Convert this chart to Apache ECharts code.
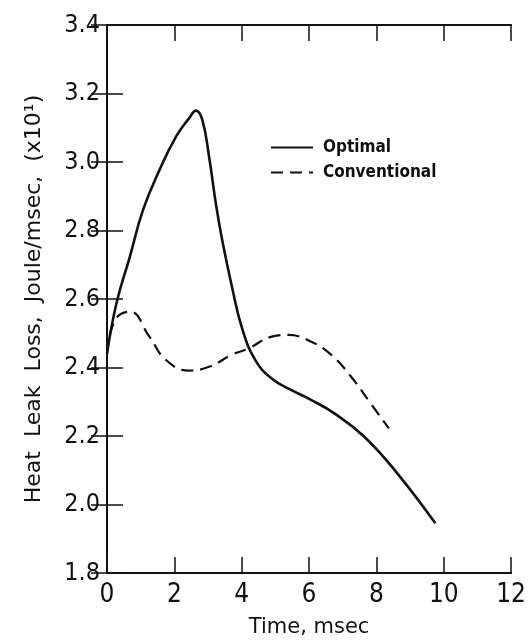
<!DOCTYPE html>
<html>
<head>
<meta charset="utf-8">
<script src="https://cdn.jsdelivr.net/npm/echarts@6/dist/echarts.min.js"></script>
<style>
  html, body { margin: 0; padding: 0; background: #fff; }
  #chart { width: 529px; height: 643px; }
</style>
</head>
<body>
<div id="chart"></div>
<script>
// ---- Data ----
const xTicks = [0, 2, 4, 6, 8, 10, 12];
const yTicks = [1.8, 2.0, 2.2, 2.4, 2.6, 2.8, 3.0, 3.2, 3.4];

const optimalX = [0, 0.28, 0.68, 1.07, 1.56, 2.05, 2.44, 2.64, 2.83, 3.03, 3.23, 3.42, 3.71, 4.01, 4.40, 4.89, 5.48, 6.07, 6.75, 7.64, 8.62, 9.75];
const optimalY = [2.44, 2.587, 2.724, 2.86, 2.977, 3.074, 3.128, 3.15, 3.123, 3.016, 2.88, 2.772, 2.636, 2.515, 2.422, 2.368, 2.334, 2.305, 2.266, 2.198, 2.091, 1.945];

const conventionalX = [0, 0.24, 0.68, 1.26, 1.75, 2.44, 3.03, 3.71, 4.21, 4.89, 5.38, 6.07, 6.66, 7.25, 7.83, 8.37];
const conventionalY = [2.44, 2.539, 2.563, 2.49, 2.422, 2.391, 2.402, 2.437, 2.456, 2.49, 2.495, 2.475, 2.437, 2.373, 2.295, 2.222];

const seriesNames = ['Optimal', 'Conventional'];
const xTitle = 'Time, msec';
const yTitle = 'Heat  Leak  Loss,  Joule/msec,  (x10\u00B9)';

function pairs(xs, ys) { return xs.map((x, i) => [x, ys[i]]); }

const FONT = '"DejaVu Sans Condensed", "DejaVu Sans", sans-serif';
const FONT_WIDE = '"DejaVu Sans", sans-serif';
const INK = '#111';

const chart = echarts.init(document.getElementById('chart'), null, { renderer: 'canvas' });

const baseAxisLine = { show: true, lineStyle: { color: INK, width: 2 } };
const tickStyle = { show: true, inside: true, length: 16, lineStyle: { color: INK, width: 1.5 } };

chart.setOption({
  animation: false,
  backgroundColor: '#fff',
  grid: { left: 107, right: 14, top: 25, bottom: 70, containLabel: false },
  legend: {
    orient: 'vertical',
    left: 265,
    top: 134,
    itemWidth: 42,
    itemHeight: 14,
    itemGap: 8,
    data: seriesNames,
    itemStyle: { opacity: 0 },
    textStyle: { fontFamily: FONT, fontSize: 17, fontWeight: 'bold', color: INK, padding: [0, 0, 0, 5] }
  },
  xAxis: [
    {
      type: 'value', min: xTicks[0], max: xTicks[xTicks.length - 1], interval: 2,
      position: 'bottom',
      axisLine: baseAxisLine, axisTick: tickStyle, splitLine: { show: false },
      axisLabel: { fontFamily: FONT, fontSize: 26, color: INK, margin: 9 },
      name: xTitle, nameLocation: 'middle', nameGap: 44,
      nameTextStyle: { fontFamily: FONT_WIDE, fontSize: 21, color: INK }
    },
    {
      type: 'value', min: xTicks[0], max: xTicks[xTicks.length - 1], interval: 2,
      position: 'top',
      axisLine: baseAxisLine, axisTick: tickStyle, splitLine: { show: false },
      axisLabel: { show: false }
    }
  ],
  yAxis: [
    {
      type: 'value', min: yTicks[0], max: yTicks[yTicks.length - 1], interval: 0.2,
      position: 'left',
      axisLine: baseAxisLine, axisTick: tickStyle, splitLine: { show: false },
      axisLabel: { fontFamily: FONT, fontSize: 25, color: INK, margin: 7,
        formatter: v => v.toFixed(1) },
      name: yTitle, nameLocation: 'middle', nameGap: 62, nameRotate: 90,
      nameTextStyle: { fontFamily: FONT_WIDE, fontSize: 22, color: INK }
    },
    {
      type: 'value', min: yTicks[0], max: yTicks[yTicks.length - 1], interval: 0.2,
      position: 'right',
      axisLine: baseAxisLine, axisTick: tickStyle, splitLine: { show: false },
      axisLabel: { show: false }
    }
  ],
  series: [
    {
      name: seriesNames[0], type: 'line', smooth: 0.45, symbol: 'none',
      xAxisIndex: 0, yAxisIndex: 0,
      lineStyle: { color: INK, width: 2.6, type: 'solid' },
      itemStyle: { color: INK },
      data: pairs(optimalX, optimalY)
    },
    {
      name: seriesNames[1], type: 'line', smooth: 0.45, symbol: 'none',
      xAxisIndex: 0, yAxisIndex: 0,
      lineStyle: { color: INK, width: 2.2, type: [12, 7] },
      itemStyle: { color: INK },
      data: pairs(conventionalX, conventionalY)
    }
  ]
});
</script>
</body>
</html>
